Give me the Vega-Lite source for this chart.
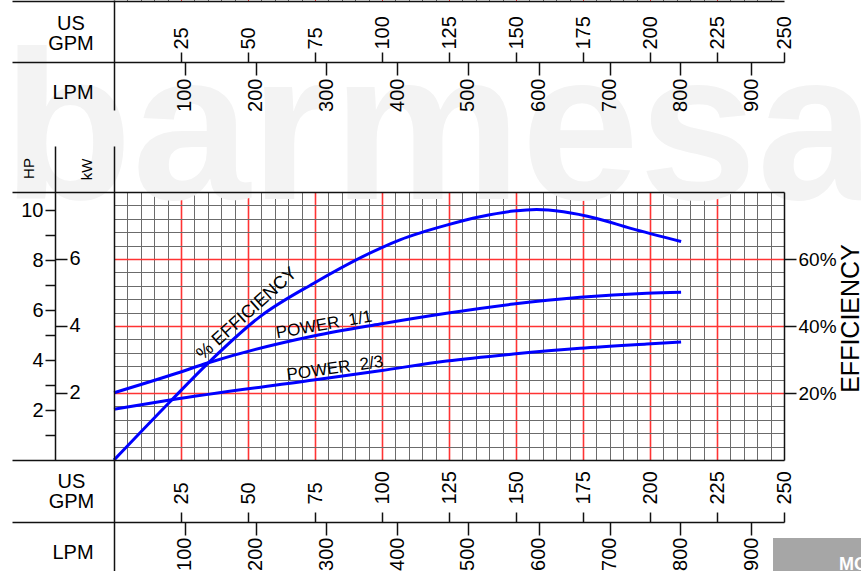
{
  "$schema": "https://vega.github.io/schema/vega-lite/v6.json",
  "width": 670,
  "height": 268,
  "autosize": {"type": "none"},
  "padding": {"left": 114, "top": 192, "right": 77, "bottom": 111},
  "background": "#ffffff",
  "config": {
    "view": {"stroke": null},
    "axis": {
      "labelFont": "Liberation Sans", "titleFont": "Liberation Sans",
      "labelColor": "#000000", "titleColor": "#000000", "titleFontWeight": "normal",
      "labelFontSize": 20, "titleFontSize": 20,
      "domainColor": "#111111", "domainWidth": 1.5, "tickColor": "#111111", "tickWidth": 1.5,
      "grid": false, "labelFlush": false, "labelOverlap": false, "labelBound": false
    }
  },
  "datasets": {
    "efficiency": [
      {"gpm": 0, "eff": 0}, {"gpm": 20.9, "eff": 17.4}, {"gpm": 35.2, "eff": 29.0},
      {"gpm": 54.5, "eff": 42.8}, {"gpm": 74.4, "eff": 52.7}, {"gpm": 99.3, "eff": 63.2},
      {"gpm": 106.7, "eff": 65.7}, {"gpm": 124.1, "eff": 70.1}, {"gpm": 136.6, "eff": 72.6},
      {"gpm": 149.0, "eff": 74.3}, {"gpm": 157.7, "eff": 74.8}, {"gpm": 167.7, "eff": 74.1},
      {"gpm": 180.1, "eff": 72.1}, {"gpm": 192.5, "eff": 69.2}, {"gpm": 211.6, "eff": 65.2}
    ],
    "power_full": [
      {"gpm": 0, "hp": 2.69}, {"gpm": 23.4, "hp": 3.47}, {"gpm": 35.2, "hp": 3.89},
      {"gpm": 74.4, "hp": 4.96}, {"gpm": 99.3, "hp": 5.44}, {"gpm": 124.1, "hp": 5.87},
      {"gpm": 149.0, "hp": 6.24}, {"gpm": 173.9, "hp": 6.51}, {"gpm": 198.8, "hp": 6.67},
      {"gpm": 211.6, "hp": 6.71}
    ],
    "power_two_thirds": [
      {"gpm": 0, "hp": 2.03}, {"gpm": 20.9, "hp": 2.40}, {"gpm": 74.4, "hp": 3.20},
      {"gpm": 99.3, "hp": 3.57}, {"gpm": 124.1, "hp": 3.96}, {"gpm": 149.0, "hp": 4.24},
      {"gpm": 173.9, "hp": 4.47}, {"gpm": 198.8, "hp": 4.64}, {"gpm": 211.6, "hp": 4.72}
    ],
    "curve_labels": [
      {"series": "efficiency", "label": "% EFFICIENCY"},
      {"series": "power_full", "label": "POWER\u00a0\u00a01/1"},
      {"series": "power_two_thirds", "label": "POWER\u00a0\u00a02/3"}
    ],
    "watermark": [{"label": "barmesa"}],
    "tag": [{"label": "MO"}]
  },
  "resolve": {"scale": {"x": "independent", "y": "independent"}, "axis": {"x": "independent", "y": "independent"}},
  "layer": [
    {
      "data": {"name": "watermark"},
      "mark": {"type": "text", "font": "Liberation Sans", "fontWeight": "bold", "fontSize": 212, "color": "#f3f3f3", "align": "left", "baseline": "alphabetic"},
      "encoding": {
        "text": {"field": "label"},
        "x": {"datum": -41.5, "type": "quantitative",
          "scale": {"domain": [-38.06, 250], "range": [-102, 670], "nice": false, "zero": false},
          "axis": {"orient": "top", "offset": 130, "zindex": 2, "values": [25, 50, 75, 100, 125, 150, 175, 200, 225, 250],
            "tickSize": 10, "labelAngle": 270, "labelAlign": "left", "labelBaseline": "middle", "labelPadding": 3,
            "title": ["US", "GPM"], "titleX": -43.5, "titleY": -38.5, "titleAngle": 0, "titleAlign": "center",
            "titleBaseline": "middle", "titleLineHeight": 20}},
        "y": {"datum": 77.9, "type": "quantitative",
          "scale": {"domain": [104.48, 137.31], "range": [-82, -192], "nice": false, "zero": false},
          "axis": {"orient": "left", "offset": 0, "zindex": 2, "ticks": false, "labels": false, "title": null}}
      }
    },
    {
      "data": {"name": "efficiency"},
      "mark": {"type": "line", "color": "#0000ff", "strokeWidth": 3, "interpolate": "monotone"},
      "encoding": {
        "x": {"field": "gpm", "type": "quantitative",
          "scale": {"domain": [0, 250], "nice": false, "zero": false},
          "axis": {"orient": "bottom", "grid": true, "domain": false, "ticks": false, "labels": false, "title": null, "zindex": 0,
            "gridColor": {"condition": {"test": "datum.value % 25 === 0", "value": "#ff3333"}, "value": "#6b6b6b"},
            "gridWidth": {"condition": {"test": "datum.value % 25 === 0", "value": 1.6}, "value": 1},
            "values": [5,10,15,20,25,30,35,40,45,50,55,60,65,70,75,80,85,90,95,100,105,110,115,120,125,130,135,140,145,150,155,160,165,170,175,180,185,190,195,200,205,210,215,220,225,230,235,240,245]}},
        "y": {"field": "eff", "type": "quantitative",
          "scale": {"domain": [0, 80], "nice": false, "zero": false},
          "axis": {"orient": "left", "grid": true, "domain": false, "ticks": false, "labels": false, "title": null, "zindex": 0,
            "gridColor": {"condition": {"test": "datum.value % 20 === 0", "value": "#ff3333"}, "value": "#6b6b6b"},
            "gridWidth": {"condition": {"test": "datum.value % 20 === 0", "value": 1.6}, "value": 1},
            "values": [4,8,12,16,20,24,28,32,36,40,44,48,52,56,60,64,68,72,76]}}
      }
    },
    {
      "data": {"name": "power_full"},
      "mark": {"type": "line", "color": "#0000ff", "strokeWidth": 3, "interpolate": "monotone"},
      "encoding": {
        "x": {"field": "gpm", "type": "quantitative",
          "scale": {"domain": [0, 250], "nice": false, "zero": false},
          "axis": null},
        "y": {"field": "hp", "type": "quantitative",
          "scale": {"domain": [0, 10.72], "nice": false, "zero": false},
          "axis": null}
      }
    },
    {
      "data": {"name": "power_two_thirds"},
      "mark": {"type": "line", "color": "#0000ff", "strokeWidth": 3, "interpolate": "monotone"},
      "encoding": {
        "x": {"field": "gpm", "type": "quantitative",
          "scale": {"domain": [-38.06, 250], "range": [-102, 670], "nice": false, "zero": false},
          "axis": {"orient": "bottom", "offset": 0, "zindex": 2, "ticks": false, "labels": false, "title": null}},
        "y": {"field": "hp", "type": "quantitative",
          "scale": {"domain": [0, 10.72], "nice": false, "zero": false},
          "axis": {"orient": "right", "offset": -729, "zindex": 2, "domain": false, "values": [2.682, 5.364, 8.046], "tickSize": 12,
            "labelExpr": "format(datum.value * 0.7457, '.0f')", "labelPadding": 2, "labelAlign": "left", "labelBaseline": "middle",
            "title": "kW", "titleAngle": 270, "titleX": 31, "titleY": -23, "titleAlign": "center", "titleBaseline": "middle", "titleFontSize": 15}}
      }
    },
    {
      "data": {"name": "curve_labels"},
      "transform": [{"filter": "datum.series == 'efficiency'"}],
      "mark": {"type": "text", "font": "Liberation Sans", "fontSize": 18, "color": "#000000", "angle": 318, "align": "center", "baseline": "middle"},
      "encoding": {
        "text": {"field": "label"},
        "x": {"datum": 49.6, "type": "quantitative",
          "scale": {"domain": [-38.06, 250], "range": [-102, 670], "nice": false, "zero": false},
          "axis": {"orient": "top", "offset": 0, "zindex": 2, "ticks": false, "labels": false, "title": null}},
        "y": {"datum": 43.6, "type": "quantitative",
          "scale": {"domain": [0, 80], "nice": false, "zero": false},
          "axis": {"orient": "right", "offset": 0, "zindex": 2, "values": [20, 40, 60], "tickSize": 12, "labelExpr": "datum.value + '%'",
            "labelPadding": 2, "labelFontSize": 19, "labelAlign": "left", "labelBaseline": "middle",
            "title": "EFFICIENCY", "titleAngle": 270, "titleX": 66, "titleY": 126, "titleAlign": "center", "titleBaseline": "middle", "titleFontSize": 25}}
      }
    },
    {
      "data": {"name": "curve_labels"},
      "transform": [{"filter": "datum.series == 'power_full'"}],
      "mark": {"type": "text", "font": "Liberation Sans", "fontSize": 17, "color": "#000000", "angle": 350, "align": "center", "baseline": "middle"},
      "encoding": {
        "text": {"field": "label"},
        "x": {"datum": 78.4, "type": "quantitative",
          "scale": {"domain": [-38.06, 250], "range": [-102, 670], "nice": false, "zero": false},
          "axis": {"orient": "top", "offset": -330, "zindex": 2, "values": [25, 50, 75, 100, 125, 150, 175, 200, 225, 250],
            "tickSize": 10, "labelAngle": 270, "labelAlign": "left", "labelBaseline": "middle", "labelPadding": 8,
            "title": ["US", "GPM"], "titleX": -43, "titleY": -40.5, "titleAngle": 0, "titleAlign": "center",
            "titleBaseline": "middle", "titleLineHeight": 20}},
        "y": {"datum": 5.4, "type": "quantitative",
          "scale": {"domain": [0, 12.56], "range": [268, -46], "nice": false, "zero": false},
          "axis": {"orient": "left", "offset": 59, "zindex": 2, "values": [1, 2, 3, 4, 5, 6, 7, 8, 9, 10], "tickSize": 10,
            "labelExpr": "datum.value % 2 == 0 ? format(datum.value, 'd') : ''", "labelPadding": 2, "labelAlign": "right", "labelBaseline": "middle",
            "title": "HP", "titleAngle": 270, "titleX": -27, "titleY": -24, "titleAlign": "center", "titleBaseline": "middle", "titleFontSize": 15}}
      }
    },
    {
      "data": {"name": "curve_labels"},
      "transform": [{"filter": "datum.series == 'power_two_thirds'"}],
      "mark": {"type": "text", "font": "Liberation Sans", "fontSize": 17, "color": "#000000", "angle": 352, "align": "center", "baseline": "middle"},
      "encoding": {
        "text": {"field": "label"},
        "x": {"datum": 82.5, "type": "quantitative",
          "scale": {"domain": [-38.06, 250], "range": [-102, 670], "nice": false, "zero": false},
          "axis": {"orient": "bottom", "offset": 62, "zindex": 2, "domain": false,
            "values": [26.4172, 52.8344, 79.2516, 105.6688, 132.0861, 158.5033, 184.9205, 211.3377, 237.7549],
            "tickSize": 13, "labelExpr": "format(datum.value * 3.78541, '.0f')", "labelAngle": 270, "labelAlign": "right", "labelBaseline": "middle", "labelPadding": 2,
            "title": "LPM", "titleX": -41.5, "titleY": 30.5, "titleAngle": 0, "titleAlign": "center", "titleBaseline": "middle"}},
        "y": {"datum": 3.66, "type": "quantitative",
          "scale": {"domain": [0, 10.72], "nice": false, "zero": false},
          "axis": null}
      }
    },
    {
      "data": {"name": "tag"},
      "mark": {"type": "rect", "color": "#a6a6a6"},
      "encoding": {
        "x": {"datum": 245.9, "type": "quantitative",
          "scale": {"domain": [-38.06, 250], "range": [-102, 670], "nice": false, "zero": false},
          "axis": {"orient": "bottom", "offset": -398, "zindex": 2, "domain": false,
            "values": [26.4172, 52.8344, 79.2516, 105.6688, 132.0861, 158.5033, 184.9205, 211.3377, 237.7549],
            "tickSize": 13, "labelExpr": "format(datum.value * 3.78541, '.0f')", "labelAngle": 270, "labelAlign": "right", "labelBaseline": "middle", "labelPadding": 3,
            "title": "LPM", "titleX": -41.5, "titleY": 30.5, "titleAngle": 0, "titleAlign": "center", "titleBaseline": "middle"}},
        "x2": {"datum": 280},
        "y": {"datum": -23.28, "type": "quantitative",
          "scale": {"domain": [-33.13, 93.73], "range": [379, -46], "nice": false, "zero": false},
          "axis": {"orient": "left", "offset": 0, "zindex": 2, "ticks": false, "labels": false, "title": null}},
        "y2": {"datum": -33.13}
      }
    },
    {
      "data": {"name": "tag"},
      "mark": {"type": "text", "font": "Liberation Sans", "fontWeight": "bold", "fontSize": 18, "color": "#ffffff", "align": "left", "baseline": "alphabetic"},
      "encoding": {
        "text": {"field": "label"},
        "x": {"datum": 270.5, "type": "quantitative",
          "scale": {"domain": [-38.06, 250], "range": [-102, 670], "nice": false, "zero": false},
          "axis": {"orient": "top", "offset": 191, "zindex": 2, "labels": false, "title": null, "tickSize": 3, "tickWidth": 1,
            "tickColor": {"condition": {"test": "datum.value % 25 === 0", "value": "#ff3333"}, "value": "#6b6b6b"},
            "values": [5,10,15,20,25,30,35,40,45,50,55,60,65,70,75,80,85,90,95,100,105,110,115,120,125,130,135,140,145,150,155,160,165,170,175,180,185,190,195,200,205,210,215,220,225,230,235,240,245]}},
        "y": {"datum": -32.8, "type": "quantitative",
          "scale": {"domain": [0, 80], "nice": false, "zero": false},
          "axis": null}
      }
    }
  ]
}
